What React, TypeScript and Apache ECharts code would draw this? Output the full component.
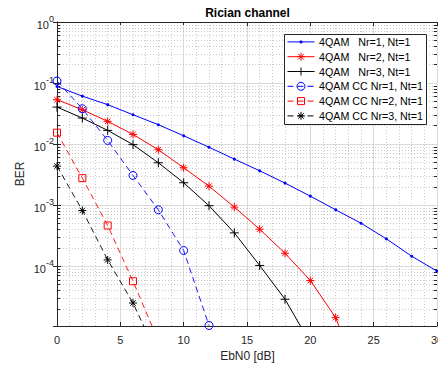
import React, { useEffect, useRef } from 'react';
import * as echarts from 'echarts';

// EbN0 grid (dB)
const ebn0 = [0, 2, 4, 6, 8, 10, 12, 14, 16, 18, 20, 22, 24, 26, 28, 30];
// BER curves
const berNr1 = [0.088, 0.061, 0.0443, 0.0303, 0.0208, 0.0137, 0.0089, 0.00568, 0.00366, 0.0023, 0.001406, 0.00084, 0.000507, 0.000281, 0.000146, 0.000083];
const berNr2 = [0.0534, 0.0366, 0.0236, 0.0144, 0.0081, 0.0041, 0.00205, 0.00093, 0.000404, 0.000163, 0.0000583, 0.0000144, 0.0000012];
const berNr3 = [0.0404, 0.0267, 0.0168, 0.0098, 0.00495, 0.00233, 0.00098, 0.000352, 0.000103, 0.0000288, 0.0000055];
const berCcNr1 = [0.108, 0.038, 0.0115, 0.00307, 0.00084, 0.000181, 0.0000107];
const berCcNr2 = [0.0154, 0.00277, 0.000465, 0.0000568, 0.000006];
const berCcNr3 = [0.00436, 0.00082, 0.000127, 0.000025, 0.0000032];

const seriesNames = [
  '4QAM   Nr=1, Nt=1',
  '4QAM   Nr=2, Nt=1',
  '4QAM   Nr=3, Nt=1',
  '4QAM CC Nr=1, Nt=1',
  '4QAM CC Nr=2, Nt=1',
  '4QAM CC Nr=3, Nt=1',
];
const seriesColors = ['#0000ff', '#ff0000', '#000000', '#0000ff', '#ff0000', '#000000'];
const seriesMarkers = ['dot', 'star', 'plus', 'circle', 'square', 'star'];
const seriesDashed = [false, false, false, true, true, true];

const xMin = 0;
const xMax = 30;
const xStep = 5;
const yMin = 1.05e-5;
const yMax = 1;
const minorDecades = [-5, -4, -3, -2, -1];
const minorMults = [2, 3, 4, 5, 6, 7, 8, 9];

const FONT = '"Liberation Sans", Arial, Helvetica, sans-serif';
const AX = '#262626';
const STAR = 'path://M5,0L5,10M0,5L10,5M1.6,1.6L8.4,8.4M1.6,8.4L8.4,1.6';
const PLUS = 'path://M5,0L5,10M0,5L10,5';
const DASH = [6, 4];
const LZ = 100;

const pairs = (ys: number[]) => ys.map((y, i) => [ebn0[i], y]);

function legendMarker(kind: string, cx: number, cy: number, color: string): any[] {
  const st = { stroke: color, lineWidth: 1 };
  if (kind === 'dot') return [{ type: 'circle', z: LZ + 2, shape: { cx, cy, r: 1.5 }, style: { fill: color } }];
  if (kind === 'circle') return [{ type: 'circle', z: LZ + 2, shape: { cx, cy, r: 4 }, style: { fill: 'none', ...st } }];
  if (kind === 'square')
    return [{ type: 'rect', z: LZ + 2, shape: { x: cx - 3.5, y: cy - 3.5, width: 7, height: 7 }, style: { fill: 'none', ...st } }];
  const r = 4;
  const segs: number[][] = [
    [cx, cy - r, cx, cy + r],
    [cx - r, cy, cx + r, cy],
  ];
  if (kind === 'star') {
    const d = r * 0.7;
    segs.push([cx - d, cy - d, cx + d, cy + d], [cx - d, cy + d, cx + d, cy - d]);
  }
  return segs.map((s) => ({ type: 'line', z: LZ + 2, shape: { x1: s[0], y1: s[1], x2: s[2], y2: s[3] }, style: st }));
}

export default function App() {
  const ref = useRef<HTMLDivElement>(null);
  useEffect(() => {
    if (!ref.current) return;
    const chart = echarts.init(ref.current, undefined, { renderer: 'svg' });

    const minorVals: number[] = [];
    minorDecades.forEach((d) =>
      minorMults.forEach((k) => {
        const v = k * Math.pow(10, d);
        if (v > yMin && v < yMax) minorVals.push(v);
      })
    );
    const markData: any[] = [];
    minorVals.forEach((v) => {
      markData.push([{ coord: [xMin, v], lineStyle: { color: '#c8c8c8', type: [1, 2], width: 1 } }, { coord: [xMax, v] }]);
    });
    minorVals.forEach((v) => {
      markData.push([{ coord: [xMin, v], lineStyle: { color: AX, type: 'solid', width: 1 } }, { coord: [xMin + 0.25, v] }]);
      markData.push([{ coord: [xMax - 0.25, v], lineStyle: { color: AX, type: 'solid', width: 1 } }, { coord: [xMax, v] }]);
    });

    const symbolFor: Record<string, [string, number]> = {
      dot: ['circle', 3],
      star: [STAR, 8],
      plus: [PLUS, 9],
      circle: ['circle', 8],
      square: ['rect', 7],
    };
    const dataSets = [berNr1, berNr2, berNr3, berCcNr1, berCcNr2, berCcNr3];
    const series: any[] = dataSets.map((ys, i) => {
      const color = seriesColors[i];
      const [symbol, size] = symbolFor[seriesMarkers[i]];
      const filled = seriesMarkers[i] === 'dot';
      return {
        type: 'line',
        name: seriesNames[i],
        data: pairs(ys),
        symbol,
        symbolSize: size,
        showSymbol: true,
        clip: true,
        z: 5,
        lineStyle: { color, width: seriesDashed[i] ? 0.9 : 1, type: seriesDashed[i] ? DASH : 'solid' },
        itemStyle: filled
          ? { color, borderColor: color, borderWidth: 0 }
          : { color: 'rgba(0,0,0,0)', borderColor: color, borderWidth: 1 },
        emphasis: { disabled: true },
      };
    });

    // legend drawn as graphics (box, samples, labels)
    const lgX = 284.5;
    const lgY = 34.5;
    const lgW = 142;
    const lgH = 90;
    const rowH = 14.8;
    const legendEls: any[] = [
      {
        type: 'rect',
        z: LZ,
        shape: { x: lgX, y: lgY, width: lgW, height: lgH },
        style: { fill: '#ffffff', stroke: AX, lineWidth: 1 },
      },
    ];
    seriesNames.forEach((name, i) => {
      const cy = lgY + rowH / 2 + i * rowH;
      const color = seriesColors[i];
      legendEls.push({
        type: 'line',
        z: LZ + 1,
        shape: { x1: 287.5, y1: cy, x2: 314.5, y2: cy },
        style: { stroke: color, lineWidth: 1, lineDash: seriesDashed[i] ? DASH : null },
      });
      legendEls.push(...legendMarker(seriesMarkers[i], 301, cy, color));
      legendEls.push({
        type: 'text',
        z: LZ + 1,
        x: 319,
        y: cy,
        style: { text: name, font: `10.7px ${FONT}`, fill: '#000', align: 'left', verticalAlign: 'middle' },
      });
    });

    chart.setOption({
      animation: false,
      grid: { left: 57, top: 22, width: 380, height: 304, containLabel: false, outerBoundsMode: 'none' },
      xAxis: [
        {
          type: 'value',
          min: xMin,
          max: xMax,
          interval: xStep,
          axisLine: { show: true, lineStyle: { color: AX, width: 1 } },
          axisTick: { show: true, inside: true, length: 4, lineStyle: { color: AX } },
          axisLabel: { color: AX, fontSize: 11, fontFamily: FONT, margin: 8 },
          splitLine: { show: true, lineStyle: { color: '#dadada', width: 1 } },
          minorTick: { show: false, splitNumber: 5 },
          minorSplitLine: { show: true, lineStyle: { color: '#c8c8c8', type: [1, 2], width: 1 } },
        },
        {
          type: 'value',
          position: 'top',
          min: xMin,
          max: xMax,
          interval: xStep,
          axisLine: { show: true, lineStyle: { color: AX, width: 1 } },
          axisTick: { show: true, inside: true, length: 4, lineStyle: { color: AX } },
          axisLabel: { show: false },
          splitLine: { show: false },
        },
      ],
      yAxis: [
        {
          type: 'log',
          logBase: 10,
          min: yMin,
          max: yMax,
          splitNumber: 5,
          axisLine: { show: true, lineStyle: { color: AX, width: 1 } },
          axisTick: { show: true, inside: true, length: 4, lineStyle: { color: AX } },
          axisLabel: {
            showMinLabel: false,
            margin: 3,
            formatter: (v: number) => `{b|10}{s|${Math.round(Math.log10(v))}}`,
            rich: {
              b: { fontSize: 11, fontFamily: FONT, color: AX, lineHeight: 16, verticalAlign: 'bottom' },
              s: { fontSize: 9, fontFamily: FONT, color: AX, verticalAlign: 'top' },
            },
          },
          splitLine: { show: true, lineStyle: { color: '#dadada', width: 1 } },
        },
        {
          type: 'log',
          logBase: 10,
          position: 'right',
          min: yMin,
          max: yMax,
          splitNumber: 5,
          axisLine: { show: true, lineStyle: { color: AX, width: 1 } },
          axisTick: { show: true, inside: true, length: 4, lineStyle: { color: AX } },
          axisLabel: { show: false },
          splitLine: { show: false },
        },
      ],
      series: [
        {
          type: 'line',
          name: '__grid',
          data: [],
          silent: true,
          z: 1,
          markLine: {
            silent: true,
            symbol: ['none', 'none'],
            label: { show: false },
            animation: false,
            data: markData,
          },
        },
        ...series,
      ],
      graphic: [
        {
          type: 'text',
          x: 247.5,
          y: 12.5,
          style: { text: 'Rician channel', font: `bold 12px ${FONT}`, fill: '#000', align: 'center', verticalAlign: 'middle' },
        },
        {
          type: 'text',
          x: 247.5,
          y: 356,
          style: { text: 'EbN0 [dB]', font: `12px ${FONT}`, fill: AX, align: 'center', verticalAlign: 'middle' },
        },
        {
          type: 'text',
          x: 20,
          y: 174,
          rotation: Math.PI / 2,
          style: { text: 'BER', font: `12px ${FONT}`, fill: AX, align: 'center', verticalAlign: 'middle' },
        },
        ...legendEls,
      ],
    });
    return () => chart.dispose();
  }, []);
  return (
    <div
      ref={ref}
      style={{ position: 'fixed', left: 0, top: 0, width: 438, height: 367, background: '#ffffff' }}
    />
  );
}
